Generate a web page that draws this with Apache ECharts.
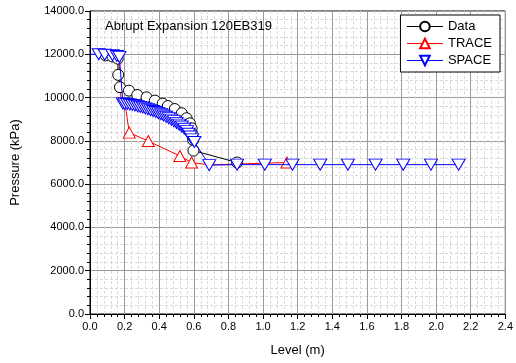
<!DOCTYPE html>
<html>
<head>
<meta charset="utf-8">
<script src="https://cdn.jsdelivr.net/npm/echarts@6/dist/echarts.min.js"></script>
<style>
  html, body { margin: 0; padding: 0; background: #fff; }
  #chart { width: 516px; height: 363px; }
</style>
</head>
<body>
<div id="chart"></div>
<script>
// measured data (level m, pressure kPa)
const dataLevel = [0.09, 0.13, 0.16, 0.163, 0.173, 0.225, 0.273, 0.327, 0.375, 0.42, 0.45, 0.49, 0.53, 0.558, 0.577, 0.587, 0.592, 0.596, 0.598, 0.85]
const dataPress = [11950, 11900, 11800, 11050, 10480, 10320, 10120, 10010, 9860, 9720, 9610, 9470, 9275, 9045, 8810, 8580, 8300, 8040, 7550, 7000]

// TRACE results, markers only where they show in the picture
const traceLevel = [0.165, 0.18, 0.208, 0.227, 0.337, 0.519, 0.587, 0.69, 1.138]
const tracePress = [12100, 9750, 9420, 8380, 7990, 7300, 7000, 6890, 7000]
const traceMark  = [false, false, false, true, true, true, true, false, true]

// SPACE results
const spaceLevel = [0.0, 0.05, 0.085, 0.13, 0.155, 0.17,
  0.19, 0.2, 0.215, 0.23, 0.245, 0.26, 0.275, 0.29, 0.305, 0.32, 0.335, 0.35, 0.365, 0.38,
  0.395, 0.41, 0.425, 0.44, 0.455, 0.47, 0.485, 0.5, 0.515, 0.53, 0.545, 0.56, 0.57, 0.58,
  0.59, 0.603, 0.689, 0.85, 1.01, 1.17, 1.33, 1.49, 1.65, 1.81, 1.97, 2.13]
const spacePress = [12000, 12000, 11980, 11960, 11920, 11880,
  9730, 9720, 9700, 9680, 9660, 9630, 9600, 9570, 9540, 9500, 9460, 9420, 9380, 9330,
  9280, 9230, 9170, 9110, 9050, 8980, 8910, 8830, 8750, 8660, 8560, 8450, 8330, 8200,
  8070, 7950, 6880, 6900, 6900, 6900, 6900, 6900, 6900, 6900, 6900, 6900]

const xTicks = ['0.0', '0.2', '0.4', '0.6', '0.8', '1.0', '1.2', '1.4', '1.6', '1.8', '2.0', '2.2', '2.4']

const pair = (xs, ys) => xs.map((x, i) => [x, ys[i]])

const downTri = 'path://M0,0 L10,0 L5,9 Z'
const font = 'Liberation Sans, Arial, sans-serif'

const chart = echarts.init(document.getElementById('chart'))

const axisCommon = {
  axisLine: {show: true, lineStyle: {color: '#000', width: 1}},
  axisTick: {show: true, length: 5, lineStyle: {color: '#000'}},
  minorTick: {show: true, splitNumber: 5, length: 3, lineStyle: {color: '#000'}},
  splitLine: {show: true, lineStyle: {color: '#9a9a9a', width: 1}},
  minorSplitLine: {show: true, lineStyle: {color: '#dadada', type: [3, 2], width: 1}},
  nameLocation: 'middle',
  nameTextStyle: {fontFamily: font, fontSize: 13, color: '#000'},
}

chart.setOption({
  animation: false,
  backgroundColor: '#fff',
  title: {
    text: 'Abrupt Expansion 120EB319',
    left: 100, top: 15,
    textStyle: {fontFamily: font, fontSize: 13, fontWeight: 'normal', color: '#000'}
  },
  legend: {
    orient: 'vertical',
    right: 16, top: 15,
    padding: [5, 8, 5, 6],
    itemGap: 4,
    itemWidth: 36,
    itemHeight: 12,
    backgroundColor: '#fff',
    borderColor: '#000',
    borderWidth: 1,
    borderRadius: 0,
    lineStyle: {width: 1},
    textStyle: {fontFamily: font, fontSize: 13, color: '#000'},
    data: ['Data', 'TRACE', 'SPACE']
  },
  grid: {
    left: 90, right: 10, top: 11, bottom: 49,
    show: true, borderColor: '#000', borderWidth: 1, backgroundColor: 'transparent'
  },
  xAxis: {
    type: 'value', min: 0, max: 2.4, interval: 0.2,
    name: 'Level (m)', nameGap: 30,
    ...axisCommon,
    axisLabel: {
      fontFamily: font, fontSize: 11, color: '#000', margin: 7,
      formatter: v => xTicks[Math.round(v / 0.2)]
    }
  },
  yAxis: {
    type: 'value', min: 0, max: 14000, interval: 2000,
    name: 'Pressure (kPa)', nameGap: 68,
    ...axisCommon,
    axisLabel: {
      fontFamily: font, fontSize: 11, color: '#000', margin: 6,
      formatter: v => v.toFixed(1)
    }
  },
  series: [
    {
      name: 'Data', type: 'line', z: 3,
      data: pair(dataLevel, dataPress),
      symbol: 'circle', symbolSize: 11, showAllSymbol: true,
      lineStyle: {color: '#000', width: 1},
      itemStyle: {color: '#fff', borderColor: '#000', borderWidth: 1}
    },
    {
      name: 'TRACE', type: 'line', z: 2,
      data: pair(traceLevel, tracePress).map((p, i) => traceMark[i] ? p : {value: p, symbol: 'none'}),
      symbol: 'triangle', symbolSize: [12, 11], showAllSymbol: true,
      lineStyle: {color: '#ff0000', width: 1},
      itemStyle: {color: '#fff', borderColor: '#ff0000', borderWidth: 1}
    },
    {
      name: 'SPACE', type: 'line', z: 4,
      data: pair(spaceLevel, spacePress).map((p, i) => i === 0 ? {value: p, symbol: 'none'} : p),
      symbol: downTri, symbolSize: [13, 11], showAllSymbol: true,
      lineStyle: {color: '#0000ff', width: 1},
      itemStyle: {color: '#fff', borderColor: '#0000ff', borderWidth: 1}
    }
  ]
})
</script>
</body>
</html>
